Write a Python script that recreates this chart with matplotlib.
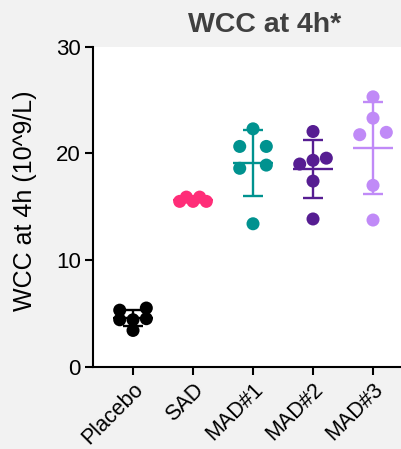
import numpy as np
import matplotlib
matplotlib.use("Agg")
import matplotlib.pyplot as plt

OUTPUT_IMG = "out.png"

# Groups and the individual WCC values (10^9/L)
GROUPS = ["Placebo", "SAD", "MAD#1", "MAD#2", "MAD#3"]
PLACEBO = [3.4, 4.4, 4.4, 4.5, 5.3, 5.5]
SAD = [15.5, 15.5, 15.5, 15.9, 15.9]
MAD1 = [13.4, 18.6, 18.9, 20.65, 20.65, 22.3]
MAD2 = [13.85, 17.4, 19.0, 19.35, 19.55, 22.05]
MAD3 = [13.75, 17.0, 21.75, 21.97, 23.3, 25.3]
SERIES = [PLACEBO, SAD, MAD1, MAD2, MAD3]
COLORS = ["#000000", "#ff2d78", "#00928f", "#561d92", "#c08af7"]

Y_TICKS = [0, 10, 20, 30]
TITLE = "WCC at 4h*"
Y_LABEL = "WCC at 4h (10^9/L)"


def swarm_offsets(y_px, diam, gap=4.0, min_dist=7.5):
    """Spread points sideways (in pixels) so they form a simple beeswarm."""
    y_px = np.asarray(y_px, dtype=float)
    order = np.argsort(y_px, kind="stable")
    rows = []
    for idx in order:
        if rows and y_px[idx] - y_px[rows[-1][-1]] < gap:
            rows[-1].append(idx)
        else:
            rows.append([idx])

    offs = np.zeros(len(y_px))
    placed = []
    for row in rows:
        n = len(row)
        if n % 2:
            first = (np.arange(n) - (n - 1) / 2) * diam
        else:
            k = np.arange(1, n // 2 + 1)
            first = np.concatenate([-k[::-1], k]) * diam
        fallback = (np.arange(n) - (n - 1) / 2) * diam
        chosen = fallback
        for cand in (first, fallback):
            ok = True
            for j, idx in enumerate(row):
                for (px, py) in placed:
                    if np.hypot(cand[j] - px, y_px[idx] - py) < min_dist:
                        ok = False
            if ok:
                chosen = cand
                break
        for j, idx in enumerate(row):
            offs[idx] = chosen[j]
            placed.append((chosen[j], y_px[idx]))
    return offs


def main():
    plt.rcParams["font.family"] = ["Liberation Sans", "DejaVu Sans"]

    fig = plt.figure(figsize=(4.02, 4.49), dpi=100, facecolor="#f2f2f2")
    ax = fig.add_axes([93 / 402, 82.3 / 449, 1 - 93 / 402, 320 / 449])
    ax.set_facecolor("white")
    ax.set_xlim(-0.667, 4.483)
    ax.set_ylim(0, 30)

    # pixel scale of the axes, used for the swarm layout
    x_scale = ax.transData.transform((1, 0))[0] - ax.transData.transform((0, 0))[0]
    y_scale = ax.transData.transform((0, 1))[1] - ax.transData.transform((0, 0))[1]

    lw = 1.7
    for i, (vals, color) in enumerate(zip(SERIES, COLORS)):
        vals = np.array(vals)
        mean = vals.mean()
        sd = vals.std(ddof=1)
        offs = swarm_offsets(vals * y_scale, diam=13.3) / x_scale
        ax.scatter(i + offs, vals, s=88, color=color, edgecolors="none", zorder=3)
        ax.hlines(mean, i - 0.333, i + 0.333, color=color, linewidth=lw, zorder=4)
        ax.errorbar(i, mean, yerr=sd, fmt="none", ecolor=color, elinewidth=lw,
                    capsize=7.4, capthick=lw, zorder=4)

    for side in ["top", "right"]:
        ax.spines[side].set_visible(False)
    for side in ["left", "bottom"]:
        ax.spines[side].set_linewidth(1.5)
        ax.spines[side].set_color("black")

    ax.set_yticks(Y_TICKS)
    ax.set_xticks(range(len(GROUPS)))
    ax.set_xticklabels(GROUPS, rotation=45, ha="right", va="top",
                       rotation_mode="anchor", fontsize=15.5)
    ax.tick_params(axis="y", labelsize=16, length=5.8, width=1.5, pad=3)
    ax.tick_params(axis="x", length=5.8, width=1.5, pad=3)

    fig.text(265 / 402, 1 - 25 / 449, TITLE, ha="center", va="center",
             fontsize=20.5, fontweight="bold", color="#404040")
    fig.text(25 / 402, 1 - 201 / 449, Y_LABEL, rotation=90, ha="center",
             va="center", fontsize=18)

    fig.savefig(OUTPUT_IMG, dpi=100, facecolor=fig.get_facecolor())


if __name__ == "__main__":
    main()
